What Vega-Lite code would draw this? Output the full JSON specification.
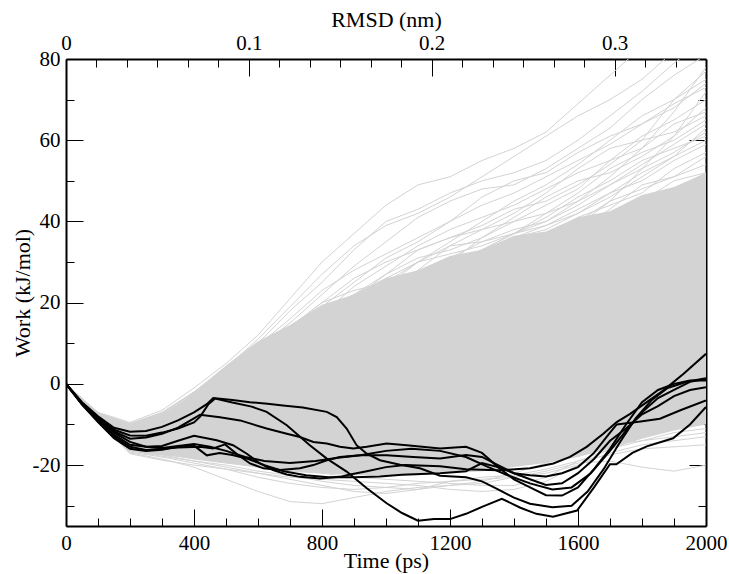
{
"$schema": "https://vega.github.io/schema/vega-lite/v6.json",
"width": 640, "height": 467,
"autosize": {"type": "none"},
"padding": {"left": 66, "top": 59, "right": 23, "bottom": 48},
"background": "white",
"config": {
 "font": "Liberation Serif, DejaVu Serif, serif",
 "view": {"stroke": null},
 "axis": {"labelFont": "Liberation Serif, DejaVu Serif, serif", "labelFontSize": 21, "labelColor": "black", "titleFont": "Liberation Serif, DejaVu Serif, serif", "titleFontSize": 22, "titleFontWeight": "normal", "titleColor": "black", "tickColor": "black", "domainColor": "black", "domainWidth": 2, "grid": false, "zindex": 1, "labelFlush": false, "labelOverlap": false}
},
"datasets": {
 "core": [
  {"t":0,"lo":0,"hi":0},{"t":50,"lo":-5.2,"hi":-4.2},{"t":100,"lo":-9.2,"hi":-7.3},{"t":150,"lo":-13.5,"hi":-9.2},{"t":200,"lo":-16.5,"hi":-10},{"t":250,"lo":-17.2,"hi":-9.6},{"t":300,"lo":-17.6,"hi":-8},{"t":350,"lo":-18,"hi":-5.5},{"t":400,"lo":-18.5,"hi":-2},{"t":500,"lo":-19.5,"hi":4.5},{"t":600,"lo":-20.5,"hi":10.5},{"t":700,"lo":-21.5,"hi":14.5},{"t":800,"lo":-22,"hi":19.5},{"t":900,"lo":-22.5,"hi":22},{"t":1000,"lo":-22.5,"hi":26},{"t":1100,"lo":-22.5,"hi":28},{"t":1200,"lo":-22,"hi":31.5},{"t":1300,"lo":-21.5,"hi":33},{"t":1400,"lo":-20.5,"hi":36.5},{"t":1500,"lo":-19.5,"hi":37.5},{"t":1600,"lo":-18,"hi":41},{"t":1700,"lo":-16,"hi":42.5},{"t":1800,"lo":-13.5,"hi":46.5},{"t":1900,"lo":-11.5,"hi":48.5},{"t":2000,"lo":-10,"hi":52}
 ],
 "gray": [
  {"id":"G1","t":0,"w":0},{"id":"G1","t":100,"w":-7},{"id":"G1","t":200,"w":-9.5},{"id":"G1","t":300,"w":-6.5},{"id":"G1","t":400,"w":-1},{"id":"G1","t":500,"w":5},{"id":"G1","t":600,"w":12},{"id":"G1","t":700,"w":21},{"id":"G1","t":800,"w":30},{"id":"G1","t":900,"w":37},{"id":"G1","t":1000,"w":44},{"id":"G1","t":1100,"w":49},{"id":"G1","t":1200,"w":51},{"id":"G1","t":1300,"w":55},{"id":"G1","t":1400,"w":58},{"id":"G1","t":1500,"w":62},{"id":"G1","t":1600,"w":69},{"id":"G1","t":1700,"w":76},{"id":"G1","t":1800,"w":83},{"id":"G1","t":1900,"w":88},{"id":"G1","t":2000,"w":92},
  {"id":"G2","t":0,"w":0},{"id":"G2","t":100,"w":-7.2},{"id":"G2","t":200,"w":-9.8},{"id":"G2","t":300,"w":-7},{"id":"G2","t":400,"w":-2},{"id":"G2","t":500,"w":4},{"id":"G2","t":600,"w":10},{"id":"G2","t":700,"w":18},{"id":"G2","t":800,"w":25},{"id":"G2","t":900,"w":33},{"id":"G2","t":1000,"w":40},{"id":"G2","t":1100,"w":43},{"id":"G2","t":1200,"w":47},{"id":"G2","t":1300,"w":50},{"id":"G2","t":1400,"w":52},{"id":"G2","t":1500,"w":55},{"id":"G2","t":1600,"w":60},{"id":"G2","t":1700,"w":66},{"id":"G2","t":1800,"w":72},{"id":"G2","t":1900,"w":79},{"id":"G2","t":2000,"w":85},
  {"id":"G3","t":0,"w":0},{"id":"G3","t":100,"w":-7.3},{"id":"G3","t":200,"w":-10},{"id":"G3","t":300,"w":-7.5},{"id":"G3","t":400,"w":-2.5},{"id":"G3","t":500,"w":3},{"id":"G3","t":600,"w":9},{"id":"G3","t":700,"w":15},{"id":"G3","t":800,"w":22},{"id":"G3","t":900,"w":29},{"id":"G3","t":1000,"w":35},{"id":"G3","t":1100,"w":41},{"id":"G3","t":1200,"w":45},{"id":"G3","t":1300,"w":48},{"id":"G3","t":1400,"w":49},{"id":"G3","t":1500,"w":53},{"id":"G3","t":1600,"w":58},{"id":"G3","t":1700,"w":63},{"id":"G3","t":1800,"w":70},{"id":"G3","t":1900,"w":76},{"id":"G3","t":2000,"w":81},
  {"id":"G4","t":0,"w":0},{"id":"G4","t":100,"w":-7.4},{"id":"G4","t":200,"w":-10.2},{"id":"G4","t":300,"w":-7.8},{"id":"G4","t":400,"w":-3},{"id":"G4","t":500,"w":2},{"id":"G4","t":600,"w":7},{"id":"G4","t":700,"w":13},{"id":"G4","t":800,"w":19},{"id":"G4","t":900,"w":25},{"id":"G4","t":1000,"w":31},{"id":"G4","t":1100,"w":35},{"id":"G4","t":1200,"w":40},{"id":"G4","t":1300,"w":46},{"id":"G4","t":1400,"w":50},{"id":"G4","t":1500,"w":52},{"id":"G4","t":1600,"w":57},{"id":"G4","t":1700,"w":61},{"id":"G4","t":1800,"w":64},{"id":"G4","t":1900,"w":68},{"id":"G4","t":2000,"w":74},
  {"id":"G5","t":0,"w":0},{"id":"G5","t":100,"w":-7.5},{"id":"G5","t":200,"w":-10.3},{"id":"G5","t":300,"w":-8},{"id":"G5","t":400,"w":-3.5},{"id":"G5","t":500,"w":1},{"id":"G5","t":600,"w":5},{"id":"G5","t":700,"w":10},{"id":"G5","t":800,"w":15},{"id":"G5","t":900,"w":21},{"id":"G5","t":1000,"w":27},{"id":"G5","t":1100,"w":33},{"id":"G5","t":1200,"w":36},{"id":"G5","t":1300,"w":38},{"id":"G5","t":1400,"w":42},{"id":"G5","t":1500,"w":47},{"id":"G5","t":1600,"w":53},{"id":"G5","t":1700,"w":58},{"id":"G5","t":1800,"w":60},{"id":"G5","t":1900,"w":62},{"id":"G5","t":2000,"w":66},
  {"id":"G6","t":0,"w":0},{"id":"G6","t":100,"w":-7.5},{"id":"G6","t":200,"w":-10.4},{"id":"G6","t":300,"w":-8.2},{"id":"G6","t":400,"w":-4},{"id":"G6","t":500,"w":0},{"id":"G6","t":600,"w":4},{"id":"G6","t":700,"w":9},{"id":"G6","t":800,"w":14},{"id":"G6","t":900,"w":18},{"id":"G6","t":1000,"w":22},{"id":"G6","t":1100,"w":28},{"id":"G6","t":1200,"w":34},{"id":"G6","t":1300,"w":38},{"id":"G6","t":1400,"w":40},{"id":"G6","t":1500,"w":44},{"id":"G6","t":1600,"w":48},{"id":"G6","t":1700,"w":55},{"id":"G6","t":1800,"w":61},{"id":"G6","t":1900,"w":65},{"id":"G6","t":2000,"w":70},
  {"id":"G7","t":0,"w":0},{"id":"G7","t":100,"w":-7.6},{"id":"G7","t":200,"w":-10.5},{"id":"G7","t":300,"w":-8.4},{"id":"G7","t":400,"w":-4.5},{"id":"G7","t":500,"w":-1},{"id":"G7","t":600,"w":3},{"id":"G7","t":700,"w":7},{"id":"G7","t":800,"w":12},{"id":"G7","t":900,"w":17},{"id":"G7","t":1000,"w":21},{"id":"G7","t":1100,"w":26},{"id":"G7","t":1200,"w":29},{"id":"G7","t":1300,"w":33},{"id":"G7","t":1400,"w":37},{"id":"G7","t":1500,"w":41},{"id":"G7","t":1600,"w":46},{"id":"G7","t":1700,"w":50},{"id":"G7","t":1800,"w":55},{"id":"G7","t":1900,"w":58},{"id":"G7","t":2000,"w":61},
  {"id":"G8","t":0,"w":0},{"id":"G8","t":100,"w":-7.6},{"id":"G8","t":200,"w":-10.6},{"id":"G8","t":300,"w":-8.5},{"id":"G8","t":400,"w":-5},{"id":"G8","t":500,"w":-1.5},{"id":"G8","t":600,"w":2},{"id":"G8","t":700,"w":6},{"id":"G8","t":800,"w":10},{"id":"G8","t":900,"w":14},{"id":"G8","t":1000,"w":18},{"id":"G8","t":1100,"w":22},{"id":"G8","t":1200,"w":26},{"id":"G8","t":1300,"w":31},{"id":"G8","t":1400,"w":36},{"id":"G8","t":1500,"w":39},{"id":"G8","t":1600,"w":42},{"id":"G8","t":1700,"w":46},{"id":"G8","t":1800,"w":51},{"id":"G8","t":1900,"w":56},{"id":"G8","t":2000,"w":60},
  {"id":"G9","t":0,"w":0},{"id":"G9","t":100,"w":-7.7},{"id":"G9","t":200,"w":-10.7},{"id":"G9","t":300,"w":-8.6},{"id":"G9","t":400,"w":-5.2},{"id":"G9","t":500,"w":-2},{"id":"G9","t":600,"w":1.5},{"id":"G9","t":700,"w":5},{"id":"G9","t":800,"w":9},{"id":"G9","t":900,"w":13},{"id":"G9","t":1000,"w":18},{"id":"G9","t":1100,"w":24},{"id":"G9","t":1200,"w":27},{"id":"G9","t":1300,"w":29},{"id":"G9","t":1400,"w":33},{"id":"G9","t":1500,"w":37},{"id":"G9","t":1600,"w":41},{"id":"G9","t":1700,"w":44},{"id":"G9","t":1800,"w":47},{"id":"G9","t":1900,"w":53},{"id":"G9","t":2000,"w":57},
  {"id":"G10","t":0,"w":0},{"id":"G10","t":100,"w":-7.7},{"id":"G10","t":200,"w":-10.8},{"id":"G10","t":300,"w":-8.8},{"id":"G10","t":400,"w":-5.5},{"id":"G10","t":500,"w":-2.5},{"id":"G10","t":600,"w":1},{"id":"G10","t":700,"w":4},{"id":"G10","t":800,"w":8},{"id":"G10","t":900,"w":11},{"id":"G10","t":1000,"w":15},{"id":"G10","t":1100,"w":19},{"id":"G10","t":1200,"w":23},{"id":"G10","t":1300,"w":28},{"id":"G10","t":1400,"w":32},{"id":"G10","t":1500,"w":34},{"id":"G10","t":1600,"w":38},{"id":"G10","t":1700,"w":43},{"id":"G10","t":1800,"w":49},{"id":"G10","t":1900,"w":51},{"id":"G10","t":2000,"w":54},
  {"id":"G11","t":0,"w":0},{"id":"G11","t":100,"w":-7.8},{"id":"G11","t":200,"w":-11},{"id":"G11","t":300,"w":-9},{"id":"G11","t":400,"w":-6},{"id":"G11","t":500,"w":-3},{"id":"G11","t":600,"w":0},{"id":"G11","t":700,"w":3.5},{"id":"G11","t":800,"w":7},{"id":"G11","t":900,"w":11},{"id":"G11","t":1000,"w":14},{"id":"G11","t":1100,"w":17},{"id":"G11","t":1200,"w":21},{"id":"G11","t":1300,"w":24},{"id":"G11","t":1400,"w":28},{"id":"G11","t":1500,"w":33},{"id":"G11","t":1600,"w":36},{"id":"G11","t":1700,"w":40},{"id":"G11","t":1800,"w":45},{"id":"G11","t":1900,"w":50},{"id":"G11","t":2000,"w":52},
  {"id":"G12","t":0,"w":0},{"id":"G12","t":100,"w":-7.8},{"id":"G12","t":200,"w":-11},{"id":"G12","t":300,"w":-9},{"id":"G12","t":400,"w":-6},{"id":"G12","t":500,"w":-3},{"id":"G12","t":600,"w":0},{"id":"G12","t":700,"w":3},{"id":"G12","t":800,"w":6},{"id":"G12","t":900,"w":9},{"id":"G12","t":1000,"w":13},{"id":"G12","t":1100,"w":18},{"id":"G12","t":1200,"w":22},{"id":"G12","t":1300,"w":26},{"id":"G12","t":1400,"w":29},{"id":"G12","t":1500,"w":31},{"id":"G12","t":1600,"w":35},{"id":"G12","t":1700,"w":39},{"id":"G12","t":1800,"w":42},{"id":"G12","t":1900,"w":46},{"id":"G12","t":2000,"w":49},
  {"id":"G13","t":0,"w":0},{"id":"G13","t":100,"w":-7.5},{"id":"G13","t":200,"w":-10.3},{"id":"G13","t":300,"w":-8},{"id":"G13","t":400,"w":-3},{"id":"G13","t":500,"w":2},{"id":"G13","t":600,"w":8},{"id":"G13","t":700,"w":14},{"id":"G13","t":800,"w":20},{"id":"G13","t":900,"w":23},{"id":"G13","t":1000,"w":25},{"id":"G13","t":1100,"w":27},{"id":"G13","t":1200,"w":30},{"id":"G13","t":1300,"w":33},{"id":"G13","t":1400,"w":37},{"id":"G13","t":1500,"w":40},{"id":"G13","t":1600,"w":45},{"id":"G13","t":1700,"w":51},{"id":"G13","t":1800,"w":58},{"id":"G13","t":1900,"w":67},{"id":"G13","t":2000,"w":78},
  {"id":"G14","t":0,"w":0},{"id":"G14","t":100,"w":-7.6},{"id":"G14","t":200,"w":-10.5},{"id":"G14","t":300,"w":-8.3},{"id":"G14","t":400,"w":-4},{"id":"G14","t":500,"w":1},{"id":"G14","t":600,"w":6},{"id":"G14","t":700,"w":11},{"id":"G14","t":800,"w":16},{"id":"G14","t":900,"w":20},{"id":"G14","t":1000,"w":24},{"id":"G14","t":1100,"w":30},{"id":"G14","t":1200,"w":34},{"id":"G14","t":1300,"w":35},{"id":"G14","t":1400,"w":37},{"id":"G14","t":1500,"w":39},{"id":"G14","t":1600,"w":43},{"id":"G14","t":1700,"w":47},{"id":"G14","t":1800,"w":52},{"id":"G14","t":1900,"w":56},{"id":"G14","t":2000,"w":63},
  {"id":"G15","t":0,"w":0},{"id":"G15","t":100,"w":-7.7},{"id":"G15","t":200,"w":-10.8},{"id":"G15","t":300,"w":-8.7},{"id":"G15","t":400,"w":-5},{"id":"G15","t":500,"w":-1},{"id":"G15","t":600,"w":3},{"id":"G15","t":700,"w":8},{"id":"G15","t":800,"w":13},{"id":"G15","t":900,"w":17},{"id":"G15","t":1000,"w":20},{"id":"G15","t":1100,"w":22},{"id":"G15","t":1200,"w":25},{"id":"G15","t":1300,"w":27},{"id":"G15","t":1400,"w":30},{"id":"G15","t":1500,"w":34},{"id":"G15","t":1600,"w":39},{"id":"G15","t":1700,"w":45},{"id":"G15","t":1800,"w":53},{"id":"G15","t":1900,"w":61},{"id":"G15","t":2000,"w":72},
  {"id":"G16","t":0,"w":0},{"id":"G16","t":100,"w":-7.4},{"id":"G16","t":200,"w":-10.1},{"id":"G16","t":300,"w":-7.6},{"id":"G16","t":400,"w":-2.8},{"id":"G16","t":500,"w":2.5},{"id":"G16","t":600,"w":8},{"id":"G16","t":700,"w":14},{"id":"G16","t":800,"w":20},{"id":"G16","t":900,"w":26},{"id":"G16","t":1000,"w":30},{"id":"G16","t":1100,"w":33},{"id":"G16","t":1200,"w":36},{"id":"G16","t":1300,"w":39},{"id":"G16","t":1400,"w":43},{"id":"G16","t":1500,"w":45},{"id":"G16","t":1600,"w":49},{"id":"G16","t":1700,"w":54},{"id":"G16","t":1800,"w":60},{"id":"G16","t":1900,"w":70},{"id":"G16","t":2000,"w":77},
  {"id":"G17","t":0,"w":0},{"id":"G17","t":100,"w":-7.3},{"id":"G17","t":200,"w":-10},{"id":"G17","t":300,"w":-7.3},{"id":"G17","t":400,"w":-2.2},{"id":"G17","t":500,"w":3.5},{"id":"G17","t":600,"w":9.5},{"id":"G17","t":700,"w":16},{"id":"G17","t":800,"w":23},{"id":"G17","t":900,"w":28},{"id":"G17","t":1000,"w":32},{"id":"G17","t":1100,"w":36},{"id":"G17","t":1200,"w":40},{"id":"G17","t":1300,"w":44},{"id":"G17","t":1400,"w":47},{"id":"G17","t":1500,"w":51},{"id":"G17","t":1600,"w":55},{"id":"G17","t":1700,"w":59},{"id":"G17","t":1800,"w":64},{"id":"G17","t":1900,"w":69},{"id":"G17","t":2000,"w":73},
  {"id":"G18","t":0,"w":0},{"id":"G18","t":100,"w":-7.5},{"id":"G18","t":200,"w":-10.4},{"id":"G18","t":300,"w":-8.1},{"id":"G18","t":400,"w":-3.8},{"id":"G18","t":500,"w":0.5},{"id":"G18","t":600,"w":5},{"id":"G18","t":700,"w":10},{"id":"G18","t":800,"w":16},{"id":"G18","t":900,"w":22},{"id":"G18","t":1000,"w":27},{"id":"G18","t":1100,"w":31},{"id":"G18","t":1200,"w":33},{"id":"G18","t":1300,"w":36},{"id":"G18","t":1400,"w":41},{"id":"G18","t":1500,"w":46},{"id":"G18","t":1600,"w":50},{"id":"G18","t":1700,"w":52},{"id":"G18","t":1800,"w":56},{"id":"G18","t":1900,"w":61},{"id":"G18","t":2000,"w":68},
  {"id":"G19","t":0,"w":0},{"id":"G19","t":100,"w":-7.6},{"id":"G19","t":200,"w":-10.6},{"id":"G19","t":300,"w":-8.4},{"id":"G19","t":400,"w":-4.6},{"id":"G19","t":500,"w":-0.5},{"id":"G19","t":600,"w":4},{"id":"G19","t":700,"w":9},{"id":"G19","t":800,"w":13},{"id":"G19","t":900,"w":18},{"id":"G19","t":1000,"w":23},{"id":"G19","t":1100,"w":27},{"id":"G19","t":1200,"w":31},{"id":"G19","t":1300,"w":35},{"id":"G19","t":1400,"w":38},{"id":"G19","t":1500,"w":40},{"id":"G19","t":1600,"w":44},{"id":"G19","t":1700,"w":49},{"id":"G19","t":1800,"w":53},{"id":"G19","t":1900,"w":57},{"id":"G19","t":2000,"w":62},
  {"id":"G20","t":0,"w":0},{"id":"G20","t":100,"w":-7.4},{"id":"G20","t":200,"w":-10.2},{"id":"G20","t":300,"w":-7.7},{"id":"G20","t":400,"w":-3},{"id":"G20","t":500,"w":2},{"id":"G20","t":600,"w":7.5},{"id":"G20","t":700,"w":13},{"id":"G20","t":800,"w":18},{"id":"G20","t":900,"w":22},{"id":"G20","t":1000,"w":26},{"id":"G20","t":1100,"w":30},{"id":"G20","t":1200,"w":35},{"id":"G20","t":1300,"w":40},{"id":"G20","t":1400,"w":45},{"id":"G20","t":1500,"w":49},{"id":"G20","t":1600,"w":54},{"id":"G20","t":1700,"w":60},{"id":"G20","t":1800,"w":66},{"id":"G20","t":1900,"w":70},{"id":"G20","t":2000,"w":75},
  {"id":"G21","t":0,"w":0},{"id":"G21","t":100,"w":-7.7},{"id":"G21","t":200,"w":-10.9},{"id":"G21","t":300,"w":-8.9},{"id":"G21","t":400,"w":-5.6},{"id":"G21","t":500,"w":-2.2},{"id":"G21","t":600,"w":1.5},{"id":"G21","t":700,"w":5.5},{"id":"G21","t":800,"w":10},{"id":"G21","t":900,"w":15},{"id":"G21","t":1000,"w":19},{"id":"G21","t":1100,"w":24},{"id":"G21","t":1200,"w":29},{"id":"G21","t":1300,"w":33},{"id":"G21","t":1400,"w":36},{"id":"G21","t":1500,"w":38},{"id":"G21","t":1600,"w":42},{"id":"G21","t":1700,"w":47},{"id":"G21","t":1800,"w":50},{"id":"G21","t":1900,"w":55},{"id":"G21","t":2000,"w":59},
  {"id":"G22","t":0,"w":0},{"id":"G22","t":100,"w":-7.5},{"id":"G22","t":200,"w":-10.3},{"id":"G22","t":300,"w":-8},{"id":"G22","t":400,"w":-3.2},{"id":"G22","t":500,"w":1.5},{"id":"G22","t":600,"w":6},{"id":"G22","t":700,"w":12},{"id":"G22","t":800,"w":17},{"id":"G22","t":900,"w":24},{"id":"G22","t":1000,"w":29},{"id":"G22","t":1100,"w":34},{"id":"G22","t":1200,"w":38},{"id":"G22","t":1300,"w":41},{"id":"G22","t":1400,"w":44},{"id":"G22","t":1500,"w":48},{"id":"G22","t":1600,"w":52},{"id":"G22","t":1700,"w":55},{"id":"G22","t":1800,"w":58},{"id":"G22","t":1900,"w":64},{"id":"G22","t":2000,"w":67},
  {"id":"G23","t":0,"w":0},{"id":"G23","t":100,"w":-7.6},{"id":"G23","t":200,"w":-10.5},{"id":"G23","t":300,"w":-8.3},{"id":"G23","t":400,"w":-4.2},{"id":"G23","t":500,"w":0},{"id":"G23","t":600,"w":4.5},{"id":"G23","t":700,"w":9},{"id":"G23","t":800,"w":14},{"id":"G23","t":900,"w":19},{"id":"G23","t":1000,"w":25},{"id":"G23","t":1100,"w":30},{"id":"G23","t":1200,"w":32},{"id":"G23","t":1300,"w":34},{"id":"G23","t":1400,"w":37},{"id":"G23","t":1500,"w":42},{"id":"G23","t":1600,"w":47},{"id":"G23","t":1700,"w":53},{"id":"G23","t":1800,"w":57},{"id":"G23","t":1900,"w":60},{"id":"G23","t":2000,"w":65},
  {"id":"G24","t":0,"w":0},{"id":"G24","t":100,"w":-7.8},{"id":"G24","t":200,"w":-11},{"id":"G24","t":300,"w":-9.1},{"id":"G24","t":400,"w":-6.2},{"id":"G24","t":500,"w":-3.2},{"id":"G24","t":600,"w":0.5},{"id":"G24","t":700,"w":4},{"id":"G24","t":800,"w":7.5},{"id":"G24","t":900,"w":11},{"id":"G24","t":1000,"w":15},{"id":"G24","t":1100,"w":20},{"id":"G24","t":1200,"w":25},{"id":"G24","t":1300,"w":30},{"id":"G24","t":1400,"w":33},{"id":"G24","t":1500,"w":36},{"id":"G24","t":1600,"w":40},{"id":"G24","t":1700,"w":45},{"id":"G24","t":1800,"w":48},{"id":"G24","t":1900,"w":51},{"id":"G24","t":2000,"w":56},
  {"id":"G25","t":0,"w":0},{"id":"G25","t":100,"w":-7.3},{"id":"G25","t":200,"w":-9.9},{"id":"G25","t":300,"w":-7.2},{"id":"G25","t":400,"w":-2},{"id":"G25","t":500,"w":4},{"id":"G25","t":600,"w":11},{"id":"G25","t":700,"w":19},{"id":"G25","t":800,"w":27},{"id":"G25","t":900,"w":34},{"id":"G25","t":1000,"w":39},{"id":"G25","t":1100,"w":42},{"id":"G25","t":1200,"w":46},{"id":"G25","t":1300,"w":51},{"id":"G25","t":1400,"w":56},{"id":"G25","t":1500,"w":61},{"id":"G25","t":1600,"w":66},{"id":"G25","t":1700,"w":70},{"id":"G25","t":1800,"w":75},{"id":"G25","t":1900,"w":82},{"id":"G25","t":2000,"w":86},
  {"id":"G26","t":0,"w":0},{"id":"G26","t":100,"w":-7.6},{"id":"G26","t":200,"w":-10.6},{"id":"G26","t":300,"w":-8.5},{"id":"G26","t":400,"w":-4.8},{"id":"G26","t":500,"w":-1.2},{"id":"G26","t":600,"w":2.5},{"id":"G26","t":700,"w":7},{"id":"G26","t":800,"w":11},{"id":"G26","t":900,"w":15},{"id":"G26","t":1000,"w":20},{"id":"G26","t":1100,"w":25},{"id":"G26","t":1200,"w":30},{"id":"G26","t":1300,"w":36},{"id":"G26","t":1400,"w":40},{"id":"G26","t":1500,"w":42},{"id":"G26","t":1600,"w":45},{"id":"G26","t":1700,"w":49},{"id":"G26","t":1800,"w":54},{"id":"G26","t":1900,"w":59},{"id":"G26","t":2000,"w":64},
  {"id":"L1","t":0,"w":0},{"id":"L1","t":100,"w":-9},{"id":"L1","t":200,"w":-17},{"id":"L1","t":300,"w":-18.5},{"id":"L1","t":400,"w":-20.5},{"id":"L1","t":500,"w":-23.5},{"id":"L1","t":600,"w":-26.5},{"id":"L1","t":700,"w":-29},{"id":"L1","t":800,"w":-29.5},{"id":"L1","t":900,"w":-28},{"id":"L1","t":1000,"w":-26.5},{"id":"L1","t":1100,"w":-25.5},{"id":"L1","t":1200,"w":-25},{"id":"L1","t":1300,"w":-24.5},{"id":"L1","t":1400,"w":-23},{"id":"L1","t":1500,"w":-21.5},{"id":"L1","t":1600,"w":-19.5},{"id":"L1","t":1700,"w":-19},{"id":"L1","t":1800,"w":-20.5},{"id":"L1","t":1900,"w":-21.5},{"id":"L1","t":2000,"w":-20},
  {"id":"L2","t":0,"w":0},{"id":"L2","t":100,"w":-9},{"id":"L2","t":200,"w":-16.8},{"id":"L2","t":300,"w":-18},{"id":"L2","t":400,"w":-19.5},{"id":"L2","t":500,"w":-21},{"id":"L2","t":600,"w":-23},{"id":"L2","t":700,"w":-24.5},{"id":"L2","t":800,"w":-25.5},{"id":"L2","t":900,"w":-26},{"id":"L2","t":1000,"w":-25.5},{"id":"L2","t":1100,"w":-24.5},{"id":"L2","t":1200,"w":-24},{"id":"L2","t":1300,"w":-23.5},{"id":"L2","t":1400,"w":-23},{"id":"L2","t":1500,"w":-22},{"id":"L2","t":1600,"w":-20},{"id":"L2","t":1700,"w":-17},{"id":"L2","t":1800,"w":-15},{"id":"L2","t":1900,"w":-14},{"id":"L2","t":2000,"w":-13},
  {"id":"L3","t":0,"w":0},{"id":"L3","t":100,"w":-8.9},{"id":"L3","t":200,"w":-16.5},{"id":"L3","t":300,"w":-17.8},{"id":"L3","t":400,"w":-19},{"id":"L3","t":500,"w":-20},{"id":"L3","t":600,"w":-21.5},{"id":"L3","t":700,"w":-22.5},{"id":"L3","t":800,"w":-24},{"id":"L3","t":900,"w":-25},{"id":"L3","t":1000,"w":-25.5},{"id":"L3","t":1100,"w":-26},{"id":"L3","t":1200,"w":-25},{"id":"L3","t":1300,"w":-24},{"id":"L3","t":1400,"w":-22},{"id":"L3","t":1500,"w":-19.5},{"id":"L3","t":1600,"w":-17},{"id":"L3","t":1700,"w":-15},{"id":"L3","t":1800,"w":-14},{"id":"L3","t":1900,"w":-13},{"id":"L3","t":2000,"w":-12},
  {"id":"L4","t":0,"w":0},{"id":"L4","t":100,"w":-8.8},{"id":"L4","t":200,"w":-16.3},{"id":"L4","t":300,"w":-17.5},{"id":"L4","t":400,"w":-19},{"id":"L4","t":500,"w":-20.5},{"id":"L4","t":600,"w":-22},{"id":"L4","t":700,"w":-23},{"id":"L4","t":800,"w":-23.5},{"id":"L4","t":900,"w":-24},{"id":"L4","t":1000,"w":-24.5},{"id":"L4","t":1100,"w":-25},{"id":"L4","t":1200,"w":-26},{"id":"L4","t":1300,"w":-26.5},{"id":"L4","t":1400,"w":-26},{"id":"L4","t":1500,"w":-24},{"id":"L4","t":1600,"w":-20},{"id":"L4","t":1700,"w":-16},{"id":"L4","t":1800,"w":-13},{"id":"L4","t":1900,"w":-11},{"id":"L4","t":2000,"w":-9},
  {"id":"L5","t":0,"w":0},{"id":"L5","t":100,"w":-8.8},{"id":"L5","t":200,"w":-16},{"id":"L5","t":300,"w":-17},{"id":"L5","t":400,"w":-18.5},{"id":"L5","t":500,"w":-19.5},{"id":"L5","t":600,"w":-20.5},{"id":"L5","t":700,"w":-21.5},{"id":"L5","t":800,"w":-22},{"id":"L5","t":900,"w":-23},{"id":"L5","t":1000,"w":-23.5},{"id":"L5","t":1100,"w":-24},{"id":"L5","t":1200,"w":-24.5},{"id":"L5","t":1300,"w":-25},{"id":"L5","t":1400,"w":-25},{"id":"L5","t":1500,"w":-23},{"id":"L5","t":1600,"w":-19},{"id":"L5","t":1700,"w":-16},{"id":"L5","t":1800,"w":-14},{"id":"L5","t":1900,"w":-12},{"id":"L5","t":2000,"w":-11},
  {"id":"L6","t":0,"w":0},{"id":"L6","t":100,"w":-9.1},{"id":"L6","t":200,"w":-17.2},{"id":"L6","t":300,"w":-18.8},{"id":"L6","t":400,"w":-20},{"id":"L6","t":500,"w":-21},{"id":"L6","t":600,"w":-22},{"id":"L6","t":700,"w":-23.5},{"id":"L6","t":800,"w":-25},{"id":"L6","t":900,"w":-26.5},{"id":"L6","t":1000,"w":-27},{"id":"L6","t":1100,"w":-26},{"id":"L6","t":1200,"w":-24},{"id":"L6","t":1300,"w":-23},{"id":"L6","t":1400,"w":-22.5},{"id":"L6","t":1500,"w":-21},{"id":"L6","t":1600,"w":-19},{"id":"L6","t":1700,"w":-17.5},{"id":"L6","t":1800,"w":-16},{"id":"L6","t":1900,"w":-15.5},{"id":"L6","t":2000,"w":-15}
 ],
 "black": [
  {"id":"B1","t":0,"w":0},{"id":"B1","t":50,"w":-4.5},{"id":"B1","t":100,"w":-8},{"id":"B1","t":150,"w":-10.8},{"id":"B1","t":200,"w":-11.8},{"id":"B1","t":250,"w":-11.6},{"id":"B1","t":300,"w":-10.6},{"id":"B1","t":350,"w":-9},{"id":"B1","t":400,"w":-7},{"id":"B1","t":440,"w":-5},{"id":"B1","t":460,"w":-3.5},{"id":"B1","t":520,"w":-4},{"id":"B1","t":575,"w":-4.5},{"id":"B1","t":630,"w":-4.9},{"id":"B1","t":678,"w":-5.3},{"id":"B1","t":740,"w":-5.8},{"id":"B1","t":815,"w":-6.9},{"id":"B1","t":846,"w":-8.2},{"id":"B1","t":877,"w":-11},{"id":"B1","t":908,"w":-15.1},{"id":"B1","t":940,"w":-17.2},{"id":"B1","t":981,"w":-18.8},{"id":"B1","t":1044,"w":-19.9},{"id":"B1","t":1106,"w":-20.8},{"id":"B1","t":1169,"w":-22.6},{"id":"B1","t":1250,"w":-23},{"id":"B1","t":1300,"w":-24},{"id":"B1","t":1350,"w":-26},{"id":"B1","t":1400,"w":-28},{"id":"B1","t":1450,"w":-29.5},{"id":"B1","t":1520,"w":-30.4},{"id":"B1","t":1580,"w":-30},{"id":"B1","t":1630,"w":-26.5},{"id":"B1","t":1680,"w":-21},{"id":"B1","t":1730,"w":-14.5},{"id":"B1","t":1780,"w":-8.5},{"id":"B1","t":1830,"w":-4},{"id":"B1","t":1880,"w":-1},{"id":"B1","t":1940,"w":0.5},{"id":"B1","t":2000,"w":1.4},
  {"id":"B2","t":0,"w":0},{"id":"B2","t":50,"w":-4.7},{"id":"B2","t":100,"w":-8.4},{"id":"B2","t":150,"w":-11.3},{"id":"B2","t":200,"w":-12.7},{"id":"B2","t":250,"w":-12.8},{"id":"B2","t":300,"w":-12},{"id":"B2","t":350,"w":-11},{"id":"B2","t":400,"w":-9.5},{"id":"B2","t":420,"w":-8},{"id":"B2","t":445,"w":-5},{"id":"B2","t":466,"w":-3.6},{"id":"B2","t":520,"w":-4.6},{"id":"B2","t":580,"w":-5.6},{"id":"B2","t":627,"w":-6.9},{"id":"B2","t":690,"w":-10.2},{"id":"B2","t":762,"w":-15.1},{"id":"B2","t":815,"w":-18.4},{"id":"B2","t":877,"w":-21.6},{"id":"B2","t":940,"w":-25.7},{"id":"B2","t":1002,"w":-29.4},{"id":"B2","t":1050,"w":-31.8},{"id":"B2","t":1100,"w":-33.7},{"id":"B2","t":1150,"w":-33.3},{"id":"B2","t":1200,"w":-33.3},{"id":"B2","t":1250,"w":-32},{"id":"B2","t":1300,"w":-30.3},{"id":"B2","t":1362,"w":-28.3},{"id":"B2","t":1420,"w":-30.5},{"id":"B2","t":1470,"w":-32},{"id":"B2","t":1522,"w":-32.7},{"id":"B2","t":1597,"w":-31.2},{"id":"B2","t":1650,"w":-25.5},{"id":"B2","t":1700,"w":-19.8},{"id":"B2","t":1720,"w":-19.8},{"id":"B2","t":1770,"w":-17},{"id":"B2","t":1815,"w":-15.4},{"id":"B2","t":1897,"w":-13.4},{"id":"B2","t":1950,"w":-10},{"id":"B2","t":2000,"w":-5.7},
  {"id":"B3","t":0,"w":0},{"id":"B3","t":50,"w":-4.8},{"id":"B3","t":100,"w":-8.6},{"id":"B3","t":150,"w":-11.7},{"id":"B3","t":200,"w":-13.5},{"id":"B3","t":250,"w":-13.2},{"id":"B3","t":300,"w":-12.3},{"id":"B3","t":350,"w":-10.8},{"id":"B3","t":400,"w":-8.5},{"id":"B3","t":419,"w":-7.6},{"id":"B3","t":481,"w":-8.2},{"id":"B3","t":544,"w":-9},{"id":"B3","t":627,"w":-11},{"id":"B3","t":690,"w":-12.3},{"id":"B3","t":731,"w":-13.1},{"id":"B3","t":773,"w":-14.3},{"id":"B3","t":815,"w":-14.7},{"id":"B3","t":856,"w":-15.5},{"id":"B3","t":898,"w":-15.9},{"id":"B3","t":940,"w":-15.5},{"id":"B3","t":1002,"w":-14.7},{"id":"B3","t":1065,"w":-15.1},{"id":"B3","t":1169,"w":-15.9},{"id":"B3","t":1250,"w":-15.5},{"id":"B3","t":1300,"w":-17},{"id":"B3","t":1350,"w":-20.5},{"id":"B3","t":1400,"w":-23.5},{"id":"B3","t":1450,"w":-25.5},{"id":"B3","t":1500,"w":-27.4},{"id":"B3","t":1550,"w":-27.5},{"id":"B3","t":1600,"w":-25.5},{"id":"B3","t":1650,"w":-21},{"id":"B3","t":1700,"w":-16},{"id":"B3","t":1750,"w":-10},{"id":"B3","t":1800,"w":-4.5},{"id":"B3","t":1850,"w":-1.5},{"id":"B3","t":1900,"w":0},{"id":"B3","t":1950,"w":0.8},{"id":"B3","t":2000,"w":0.8},
  {"id":"B4","t":0,"w":0},{"id":"B4","t":50,"w":-5},{"id":"B4","t":100,"w":-9},{"id":"B4","t":150,"w":-12.5},{"id":"B4","t":200,"w":-15},{"id":"B4","t":250,"w":-15.5},{"id":"B4","t":300,"w":-15.3},{"id":"B4","t":350,"w":-14},{"id":"B4","t":400,"w":-12.8},{"id":"B4","t":471,"w":-13.9},{"id":"B4","t":522,"w":-15.1},{"id":"B4","t":565,"w":-17.2},{"id":"B4","t":606,"w":-19.6},{"id":"B4","t":647,"w":-21.2},{"id":"B4","t":690,"w":-22.3},{"id":"B4","t":731,"w":-22.9},{"id":"B4","t":794,"w":-23.3},{"id":"B4","t":856,"w":-22.9},{"id":"B4","t":888,"w":-22.3},{"id":"B4","t":940,"w":-21.5},{"id":"B4","t":1000,"w":-20.5},{"id":"B4","t":1060,"w":-20},{"id":"B4","t":1169,"w":-20.3},{"id":"B4","t":1250,"w":-21},{"id":"B4","t":1350,"w":-21.3},{"id":"B4","t":1450,"w":-20.8},{"id":"B4","t":1523,"w":-19.6},{"id":"B4","t":1575,"w":-18},{"id":"B4","t":1627,"w":-15.5},{"id":"B4","t":1679,"w":-12.3},{"id":"B4","t":1721,"w":-9.4},{"id":"B4","t":1763,"w":-7.4},{"id":"B4","t":1815,"w":-4.5},{"id":"B4","t":1867,"w":-1.6},{"id":"B4","t":1930,"w":2.5},{"id":"B4","t":2000,"w":7.4},
  {"id":"B5","t":0,"w":0},{"id":"B5","t":50,"w":-5},{"id":"B5","t":100,"w":-9.2},{"id":"B5","t":150,"w":-13},{"id":"B5","t":200,"w":-15.5},{"id":"B5","t":250,"w":-16.3},{"id":"B5","t":300,"w":-16},{"id":"B5","t":350,"w":-15.7},{"id":"B5","t":419,"w":-15.5},{"id":"B5","t":460,"w":-15.9},{"id":"B5","t":497,"w":-14.9},{"id":"B5","t":533,"w":-17.2},{"id":"B5","t":575,"w":-19.6},{"id":"B5","t":617,"w":-20.8},{"id":"B5","t":669,"w":-21.2},{"id":"B5","t":731,"w":-20.8},{"id":"B5","t":773,"w":-20},{"id":"B5","t":815,"w":-18.8},{"id":"B5","t":856,"w":-18},{"id":"B5","t":919,"w":-17.6},{"id":"B5","t":1002,"w":-17.6},{"id":"B5","t":1085,"w":-18},{"id":"B5","t":1169,"w":-18.4},{"id":"B5","t":1250,"w":-17.5},{"id":"B5","t":1300,"w":-18},{"id":"B5","t":1350,"w":-20},{"id":"B5","t":1400,"w":-22},{"id":"B5","t":1450,"w":-22.5},{"id":"B5","t":1500,"w":-22.8},{"id":"B5","t":1550,"w":-22},{"id":"B5","t":1600,"w":-20.5},{"id":"B5","t":1650,"w":-17},{"id":"B5","t":1700,"w":-12},{"id":"B5","t":1721,"w":-10},{"id":"B5","t":1790,"w":-9.3},{"id":"B5","t":1856,"w":-8.6},{"id":"B5","t":1920,"w":-6.5},{"id":"B5","t":2000,"w":-4.1},
  {"id":"B6","t":0,"w":0},{"id":"B6","t":50,"w":-5.1},{"id":"B6","t":100,"w":-9.4},{"id":"B6","t":150,"w":-13.4},{"id":"B6","t":200,"w":-16},{"id":"B6","t":250,"w":-16.5},{"id":"B6","t":300,"w":-16.2},{"id":"B6","t":350,"w":-15.5},{"id":"B6","t":400,"w":-15.2},{"id":"B6","t":440,"w":-17.6},{"id":"B6","t":480,"w":-17},{"id":"B6","t":520,"w":-17.5},{"id":"B6","t":570,"w":-18.5},{"id":"B6","t":620,"w":-20},{"id":"B6","t":680,"w":-21.5},{"id":"B6","t":750,"w":-22.5},{"id":"B6","t":820,"w":-23},{"id":"B6","t":900,"w":-23},{"id":"B6","t":980,"w":-22.8},{"id":"B6","t":1050,"w":-22.4},{"id":"B6","t":1169,"w":-22},{"id":"B6","t":1250,"w":-21.5},{"id":"B6","t":1300,"w":-19.5},{"id":"B6","t":1350,"w":-20.5},{"id":"B6","t":1400,"w":-22},{"id":"B6","t":1450,"w":-23.5},{"id":"B6","t":1500,"w":-24.9},{"id":"B6","t":1550,"w":-24.5},{"id":"B6","t":1600,"w":-22},{"id":"B6","t":1650,"w":-18.5},{"id":"B6","t":1700,"w":-14},{"id":"B6","t":1750,"w":-11},{"id":"B6","t":1800,"w":-7.5},{"id":"B6","t":1850,"w":-5.5},{"id":"B6","t":1900,"w":-3},{"id":"B6","t":1950,"w":-1.5},{"id":"B6","t":2000,"w":-0.8},
  {"id":"B7","t":0,"w":0},{"id":"B7","t":50,"w":-4.9},{"id":"B7","t":100,"w":-8.8},{"id":"B7","t":150,"w":-12},{"id":"B7","t":200,"w":-14.3},{"id":"B7","t":250,"w":-15.5},{"id":"B7","t":300,"w":-15.8},{"id":"B7","t":350,"w":-15.3},{"id":"B7","t":400,"w":-14.8},{"id":"B7","t":450,"w":-15.5},{"id":"B7","t":500,"w":-16.5},{"id":"B7","t":560,"w":-18},{"id":"B7","t":620,"w":-19},{"id":"B7","t":700,"w":-19.5},{"id":"B7","t":780,"w":-19},{"id":"B7","t":850,"w":-18.2},{"id":"B7","t":920,"w":-17.6},{"id":"B7","t":1000,"w":-16.5},{"id":"B7","t":1080,"w":-16},{"id":"B7","t":1169,"w":-16.5},{"id":"B7","t":1250,"w":-18},{"id":"B7","t":1320,"w":-20.5},{"id":"B7","t":1380,"w":-22.5},{"id":"B7","t":1450,"w":-24.5},{"id":"B7","t":1520,"w":-26},{"id":"B7","t":1580,"w":-25.5},{"id":"B7","t":1640,"w":-22},{"id":"B7","t":1700,"w":-16.5},{"id":"B7","t":1750,"w":-11.5},{"id":"B7","t":1800,"w":-7},{"id":"B7","t":1850,"w":-3.5},{"id":"B7","t":1900,"w":-1.5},{"id":"B7","t":1950,"w":0.5},{"id":"B7","t":2000,"w":1.2}
 ],
 "rmsd": [{"r":0,"w":0},{"r":0.35,"w":0}]
},
"resolve": {"scale": {"x": "independent"}, "axis": {"x": "independent", "y": "independent"}},
"layer": [
 {"data": {"name": "core"},
  "mark": {"type": "area", "color": "#d3d3d3", "clip": true},
  "encoding": {
   "x": {"field": "t", "type": "quantitative", "scale": {"domain": [0, 2000], "nice": false, "zero": false},
     "axis": {"orient": "bottom", "values": [0, 400, 800, 1200, 1600, 2000], "format": "d", "title": "Time (ps)", "tickSize": -17, "labelPadding": 23, "domain": true, "titleY": 41, "titleBaseline": "alphabetic"}},
   "y": {"field": "lo", "type": "quantitative", "scale": {"domain": [-35, 80], "nice": false, "zero": false},
     "axis": {"orient": "left", "values": [-20, 0, 20, 40, 60, 80], "labelExpr": "'' + datum.value", "title": "Work (kJ/mol)", "tickSize": -17, "labelPadding": 23, "domain": true, "titleX": -44, "titleBaseline": "middle"}},
   "y2": {"field": "hi"}
  }},
 {"data": {"name": "gray"},
  "mark": {"type": "line", "color": "#d3d3d3", "strokeWidth": 1, "clip": true},
  "encoding": {
   "x": {"field": "t", "type": "quantitative", "scale": {"domain": [0, 2000], "nice": false, "zero": false},
     "axis": {"orient": "bottom", "values": [100, 200, 300, 500, 600, 700, 900, 1000, 1100, 1300, 1400, 1500, 1700, 1800, 1900], "labels": false, "tickSize": -8, "title": null, "domain": false}},
   "y": {"field": "w", "type": "quantitative",
     "axis": {"orient": "left", "values": [-30, -10, 10, 30, 50, 70], "labels": false, "tickSize": -8, "title": null, "domain": false}},
   "detail": {"field": "id"}
  }},
 {"data": {"name": "black"},
  "mark": {"type": "line", "color": "black", "strokeWidth": 2, "clip": true},
  "encoding": {
   "x": {"field": "t", "type": "quantitative", "scale": {"domain": [0, 2000], "nice": false, "zero": false}, "axis": null},
   "y": {"field": "w", "type": "quantitative",
     "axis": {"orient": "right", "values": [-20, 0, 20, 40, 60, 80], "labels": false, "tickSize": -17, "title": null, "domain": true}},
   "detail": {"field": "id"}
  }},
 {"data": {"name": "rmsd"},
  "mark": {"type": "point", "opacity": 0},
  "encoding": {
   "x": {"field": "r", "type": "quantitative", "scale": {"domain": [0, 0.35], "nice": false, "zero": false},
     "axis": {"orient": "top", "values": [0, 0.1, 0.2, 0.3], "format": "~g", "title": "RMSD (nm)", "tickSize": -17, "labelPadding": 23, "domain": true, "titleY": -33, "titleBaseline": "alphabetic"}},
   "y": {"field": "w", "type": "quantitative",
     "axis": {"orient": "right", "values": [-30, -10, 10, 30, 50, 70], "labels": false, "tickSize": -8, "title": null, "domain": false}}
  }},
 {"data": {"name": "rmsd"},
  "mark": {"type": "point", "opacity": 0},
  "encoding": {
   "x": {"field": "r", "type": "quantitative", "scale": {"domain": [0, 0.35], "nice": false, "zero": false},
     "axis": {"orient": "top", "values": [0.016667, 0.033333, 0.05, 0.066667, 0.083333, 0.116667, 0.133333, 0.15, 0.166667, 0.183333, 0.216667, 0.233333, 0.25, 0.266667, 0.283333, 0.316667, 0.333333], "labels": false, "tickSize": -8, "title": null, "domain": false}},
   "y": {"field": "w", "type": "quantitative", "axis": null}
  }}
]
}
